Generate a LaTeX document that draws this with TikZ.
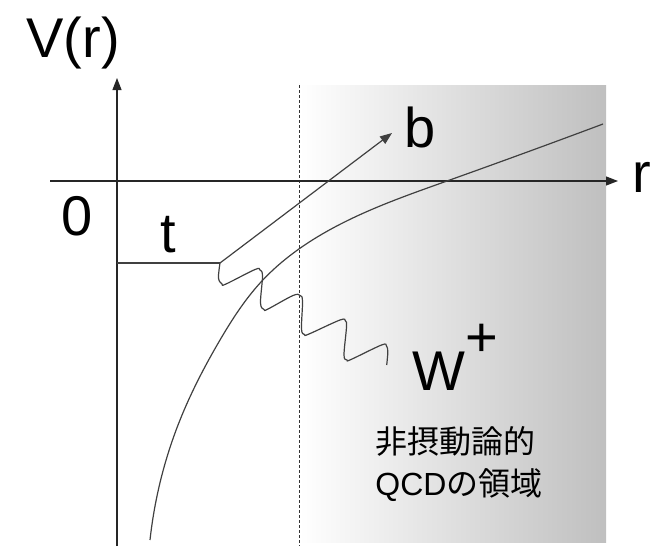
\documentclass[tikz,border=0pt]{standalone}
\usepackage{fontspec}
\setmainfont{Liberation Sans}
\newfontfamily\jpfont{Noto Sans CJK JP}
\usetikzlibrary{arrows.meta,hobby}

\begin{document}
\begin{tikzpicture}[
  x=0.5pt,y=-0.5pt,
  axis/.style={-{Triangle[length=6pt,width=4.5pt]},line width=0.6pt,black!85},
  curve/.style={line width=0.6pt,black!75},
  lbl/.style={inner sep=0pt,anchor=base,font=\fontsize{28}{30}\selectfont},
  jp/.style={inner sep=0pt,anchor=base west,font=\fontsize{16}{20}\selectfont}
]
\useasboundingbox (0,0) rectangle (653,546);
\shade[left color=white,right color=black!25] (299,85) rectangle (606,542);
\coordinate (dtop) at (299,85);
\coordinate (dbot) at (299,546);
\draw[dash pattern=on 1.5pt off 1pt,line width=0.5pt,black!80] (dtop)--(dbot);
\coordinate (ybot) at (117,546);
\coordinate (ytip) at (117,78);
\coordinate (xleft) at (50,181);
\coordinate (xtip) at (618,181);
\draw[axis] (ybot)--(ytip);
\draw[axis] (xleft)--(xtip);
\coordinate (tstart) at (117,263);
\coordinate (vertex) at (220,263);
\coordinate (btip) at (392,133);
\coordinate (vstart) at (150,540);
\coordinate (vend) at (603,124);
\draw[curve] (tstart)--(vertex);
\draw[axis,black!75] (vertex)--(btip);
\draw[curve] plot[smooth,tension=0.6] coordinates {(220,263) (218.5,278) (222,284) (226,284) (255,269.5) (260,270) (262.5,276) (260.5,303) (264,309.5) (268,309) (293,295.5) (300,295.5) (302.5,301) (301.5,329) (304.5,334.5) (309,334) (340,320) (345.5,321) (346.5,327) (344,355) (347,360) (351,359.5) (381.5,345) (386.5,346) (387.8,352) (386.7,365)};
\draw[curve] (vstart) to[curve through={(180,420) (220,340) (261,282) (333,228) (447,181)}] (vend);
\node[lbl] (vlabel) at (73,57) {V(r)};
\node[lbl] (zero) at (77,235) {0};
\node[lbl] (tlabel) at (168,252) {t};
\node[lbl] (blabel) at (420,147) {b};
\node[lbl] (rlabel) at (642,192) {r};
\node[lbl,anchor=base west] (wlabel) at (412,390) {W\raisebox{17pt}{+}};
\node[jp] (region1) at (375,453) {\jpfont 非摂動論的};
\node[jp] (region2) at (375,495) {QCD\jpfont の領域};
\end{tikzpicture}
\end{document}
